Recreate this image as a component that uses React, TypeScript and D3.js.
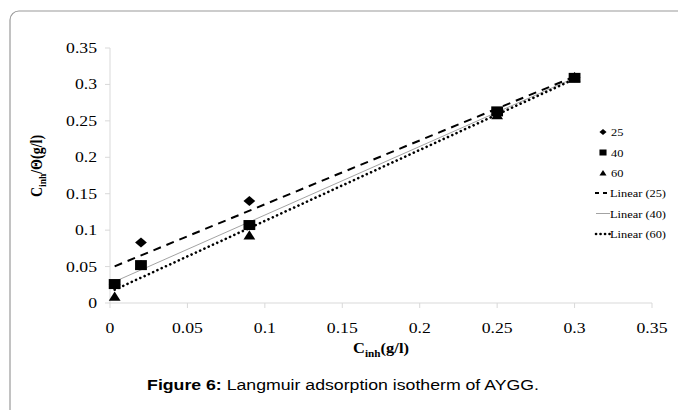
import React from 'react';
import * as d3 from 'd3';

// concentrations (g/l)
const xValues = [0.003, 0.02, 0.09, 0.25, 0.3];
// C/theta for each temperature
const series25 = [0.025, 0.083, 0.14, 0.262, 0.31];
const series40 = [0.026, 0.052, 0.107, 0.263, 0.309];
const series60 = [0.009, 0.052, 0.093, 0.258, 0.31];
const seriesNames = ['25', '40', '60'];
const xTicks = [0, 0.05, 0.1, 0.15, 0.2, 0.25, 0.3, 0.35];
const yTicks = [0, 0.05, 0.1, 0.15, 0.2, 0.25, 0.3, 0.35];

const W = 678;
const H = 410;
const margin = { left: 110, right: 26, top: 48, bottom: 107 };
const SX = 1.18; // the picture is a bit wider than tall, text too
const serif = '"Liberation Serif", "Times New Roman", serif';
const sans = '"Liberation Sans", Arial, sans-serif';

// least squares fit, like excel's linear trendline
const fit = (xs: number[], ys: number[]) => {
  const mx = d3.mean(xs) as number;
  const my = d3.mean(ys) as number;
  const sxy = d3.sum(xs, (x, i) => (x - mx) * (ys[i] - my));
  const sxx = d3.sum(xs, (x) => (x - mx) * (x - mx));
  const slope = sxy / sxx;
  return { slope, intercept: my - slope * mx };
};

const Marker = ({ kind, x, y, s }: { kind: number; x: number; y: number; s: number }) => {
  const w = s * SX;
  if (kind === 0) {
    return <path d={`M${x},${y - s}L${x + w},${y}L${x},${y + s}L${x - w},${y}Z`} fill="#000" />;
  }
  if (kind === 1) {
    return <rect x={x - w} y={y - s} width={w * 2} height={s * 2} fill="#000" />;
  }
  return <path d={`M${x},${y - s}L${x + w},${y + s * 0.85}L${x - w},${y + s * 0.85}Z`} fill="#000" />;
};

const T = ({ x, y, children, ...rest }: any) => (
  <text transform={`translate(${x},${y}) scale(${SX},1)`} {...rest}>
    {children}
  </text>
);

const App = () => {
  const xScale = d3.scaleLinear().domain([0, 0.35]).range([margin.left, W - margin.right]);
  const yScale = d3.scaleLinear().domain([0, 0.35]).range([H - margin.bottom, margin.top]);

  const allSeries = [series25, series40, series60];
  const dashes = ['8,6', 'none', '0.1,4.6'];
  const widths = [2, 0.8, 2.6];
  const caps: ('butt' | 'round')[] = ['butt', 'butt', 'round'];
  const lineColors = ['#000', '#8c8c8c', '#000'];
  const line = d3.line<[number, number]>().x((d) => xScale(d[0])).y((d) => yScale(d[1]));
  const x0 = d3.min(xValues) as number;
  const x1 = d3.max(xValues) as number;

  const y0 = yScale(0);
  const axisColor = '#d9d9d9';
  const legendRows = [132, 152.5, 173, 193, 213.5, 234];

  return (
    <svg width={W} height={H} style={{ position: 'absolute', left: 0, top: 0, background: '#fff' }}>
      <rect x={10} y={11} width={720} height={460} rx={9} fill="#fff" stroke="#9a9a9a" strokeWidth={1.2} />

      {/* axes */}
      <line x1={margin.left} x2={margin.left} y1={yScale(0.35)} y2={y0} stroke={axisColor} />
      <line x1={margin.left} x2={xScale(0.35)} y1={y0} y2={y0} stroke={axisColor} />
      {yTicks.map((t) => (
        <g key={'y' + t}>
          <line x1={margin.left - 5} x2={margin.left} y1={yScale(t)} y2={yScale(t)} stroke={axisColor} />
          <T x={margin.left - 13} y={yScale(t) + 5} textAnchor="end" fontFamily={serif} fontSize={15}>
            {t}
          </T>
        </g>
      ))}
      {xTicks.map((t) => (
        <g key={'x' + t}>
          <line x1={xScale(t)} x2={xScale(t)} y1={y0} y2={y0 + 5} stroke={axisColor} />
          <T x={xScale(t)} y={y0 + 30} textAnchor="middle" fontFamily={serif} fontSize={15}>
            {t}
          </T>
        </g>
      ))}

      {/* trend lines */}
      {allSeries.map((ys, i) => {
        const { slope, intercept } = fit(xValues, ys);
        const pts: [number, number][] = [
          [x0, intercept + slope * x0],
          [x1, intercept + slope * x1],
        ];
        return (
          <path
            key={'l' + i}
            d={line(pts) || ''}
            fill="none"
            stroke={lineColors[i]}
            strokeWidth={widths[i]}
            strokeDasharray={dashes[i]}
            strokeLinecap={caps[i]}
          />
        );
      })}

      {/* points */}
      {allSeries.map((ys, i) =>
        ys.map((v, j) => (
          <Marker key={`m${i}-${j}`} kind={i} x={xScale(xValues[j])} y={yScale(v)} s={i === 1 ? 5 : 5} />
        )),
      )}

      {/* axis titles */}
      <T x={(xScale(0) + xScale(0.35)) / 2} y={353} textAnchor="middle" fontFamily={serif} fontSize={14} fontWeight="bold">
        C<tspan fontSize={9.5} dy={3.5}>inh</tspan>
        <tspan dy={-3.5}>(g/l)</tspan>
      </T>
      <text
        transform={`translate(42,166) scale(${SX},1) rotate(-90)`}
        textAnchor="middle"
        fontFamily={serif}
        fontSize={14}
        fontWeight="bold"
      >
        C<tspan fontSize={9.5} dy={3.5}>inh</tspan>
        <tspan dy={-3.5}>/Θ(g/l)</tspan>
      </text>

      {/* legend */}
      {seriesNames.map((n, i) => (
        <g key={'lgm' + i}>
          <Marker kind={i} x={603} y={legendRows[i]} s={3} />
          <T x={611} y={legendRows[i] + 4} fontFamily={serif} fontSize={10.5}>
            {n}
          </T>
        </g>
      ))}
      {seriesNames.map((n, i) => {
        const ly = legendRows[i + 3];
        return (
          <g key={'lgl' + i}>
            <line
              x1={i === 0 ? 595 : 596}
              x2={610}
              y1={ly}
              y2={ly}
              stroke={lineColors[i]}
              strokeWidth={widths[i]}
              strokeDasharray={i === 0 ? '4,4' : i === 2 ? '0.1,4.4' : 'none'}
              strokeLinecap={caps[i]}
            />
            <T x={610} y={ly + 4} fontFamily={serif} fontSize={10.5}>
              {`Linear (${n})`}
            </T>
          </g>
        );
      })}

      {/* caption */}
      <T x={343} y={390} textAnchor="middle" fontFamily={sans} fontSize={15}>
        <tspan fontWeight="bold">Figure 6:</tspan> Langmuir adsorption isotherm of AYGG.
      </T>
    </svg>
  );
};

export default App;
